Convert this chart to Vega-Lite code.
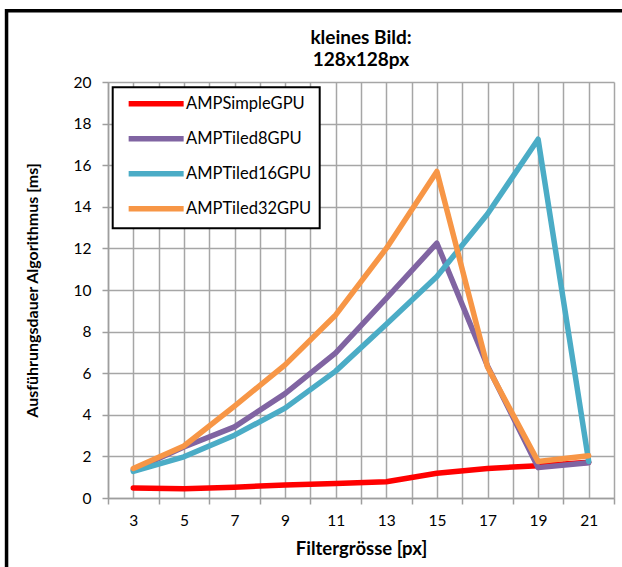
{
  "$schema": "https://vega.github.io/schema/vega-lite/v6.json",
  "width": 506,
  "height": 416,
  "autosize": "none",
  "padding": {"left": 108, "top": 82, "right": 8, "bottom": 69},
  "background": "white",
  "title": {
    "text": ["kleines Bild:", "128x128px"],
    "frame": "group",
    "font": "Lato",
    "fontSize": 19,
    "fontWeight": "bold",
    "color": "black",
    "anchor": "middle",
    "lineHeight": 22,
    "offset": -61
  },
  "config": {
    "view": {"stroke": null},
    "font": "Lato",
    "legend": {"strokeWidth": 2},
    "axis": {
      "domainColor": "#9e9e9e",
      "domainWidth": 1.5,
      "gridColor": "#a6a6a6",
      "gridWidth": 1.5,
      "gridOpacity": 1,
      "tickColor": "#9e9e9e",
      "tickWidth": 1.5,
      "tickSize": 6,
      "labelFont": "Lato",
      "labelFontSize": 15.5,
      "labelColor": "black",
      "titleFont": "Lato",
      "titleFontWeight": "bold",
      "titleColor": "black"
    }
  },
  "resolve": {"axis": {"x": "independent", "y": "independent"}},
  "layer": [
    {
      "data": {
        "values": [
          {"filter": 3, "serie": "AMPSimpleGPU", "ms": 0.48},
          {"filter": 5, "serie": "AMPSimpleGPU", "ms": 0.45},
          {"filter": 7, "serie": "AMPSimpleGPU", "ms": 0.52},
          {"filter": 9, "serie": "AMPSimpleGPU", "ms": 0.63},
          {"filter": 11, "serie": "AMPSimpleGPU", "ms": 0.7},
          {"filter": 13, "serie": "AMPSimpleGPU", "ms": 0.78},
          {"filter": 15, "serie": "AMPSimpleGPU", "ms": 1.19},
          {"filter": 17, "serie": "AMPSimpleGPU", "ms": 1.42},
          {"filter": 19, "serie": "AMPSimpleGPU", "ms": 1.55},
          {"filter": 21, "serie": "AMPSimpleGPU", "ms": 1.72},
          {"filter": 3, "serie": "AMPTiled8GPU", "ms": 1.35},
          {"filter": 5, "serie": "AMPTiled8GPU", "ms": 2.45},
          {"filter": 7, "serie": "AMPTiled8GPU", "ms": 3.42},
          {"filter": 9, "serie": "AMPTiled8GPU", "ms": 5.02},
          {"filter": 11, "serie": "AMPTiled8GPU", "ms": 6.98},
          {"filter": 13, "serie": "AMPTiled8GPU", "ms": 9.6},
          {"filter": 15, "serie": "AMPTiled8GPU", "ms": 12.25},
          {"filter": 17, "serie": "AMPTiled8GPU", "ms": 6.35},
          {"filter": 19, "serie": "AMPTiled8GPU", "ms": 1.46},
          {"filter": 21, "serie": "AMPTiled8GPU", "ms": 1.7},
          {"filter": 3, "serie": "AMPTiled16GPU", "ms": 1.28},
          {"filter": 5, "serie": "AMPTiled16GPU", "ms": 1.98},
          {"filter": 7, "serie": "AMPTiled16GPU", "ms": 3.02},
          {"filter": 9, "serie": "AMPTiled16GPU", "ms": 4.32},
          {"filter": 11, "serie": "AMPTiled16GPU", "ms": 6.1},
          {"filter": 13, "serie": "AMPTiled16GPU", "ms": 8.35},
          {"filter": 15, "serie": "AMPTiled16GPU", "ms": 10.65},
          {"filter": 17, "serie": "AMPTiled16GPU", "ms": 13.65},
          {"filter": 19, "serie": "AMPTiled16GPU", "ms": 17.25},
          {"filter": 21, "serie": "AMPTiled16GPU", "ms": 1.76},
          {"filter": 3, "serie": "AMPTiled32GPU", "ms": 1.42},
          {"filter": 5, "serie": "AMPTiled32GPU", "ms": 2.5},
          {"filter": 7, "serie": "AMPTiled32GPU", "ms": 4.42},
          {"filter": 9, "serie": "AMPTiled32GPU", "ms": 6.4},
          {"filter": 11, "serie": "AMPTiled32GPU", "ms": 8.8},
          {"filter": 13, "serie": "AMPTiled32GPU", "ms": 12.0},
          {"filter": 15, "serie": "AMPTiled32GPU", "ms": 15.7},
          {"filter": 17, "serie": "AMPTiled32GPU", "ms": 6.3},
          {"filter": 19, "serie": "AMPTiled32GPU", "ms": 1.75},
          {"filter": 21, "serie": "AMPTiled32GPU", "ms": 2.03}
        ]
      },
      "mark": {"type": "line", "strokeWidth": 5.5, "strokeCap": "round", "strokeJoin": "round"},
      "encoding": {
        "x": {
          "field": "filter",
          "type": "quantitative",
          "scale": {"domain": [2, 22], "nice": false, "zero": false},
          "axis": {
            "title": "Filtergrösse [px]",
            "titleFontSize": 18.5,
            "values": [2, 3, 4, 5, 6, 7, 8, 9, 10, 11, 12, 13, 14, 15, 16, 17, 18, 19, 20, 21, 22],
            "labelExpr": "datum.value % 2 == 1 ? datum.label : ''",
            "labelOverlap": false,
            "labelFlush": false,
            "labelBound": false,
            "labelPadding": 9,
            "tickOpacity": {"condition": {"test": "datum.value % 2 == 0", "value": 1}, "value": 0},
            "titlePadding": 11
          }
        },
        "y": {
          "field": "ms",
          "type": "quantitative",
          "scale": {"domain": [0, 20], "nice": false},
          "axis": {
            "title": "Ausführungsdauer Algorithmus [ms]",
            "titleFontSize": 16,
            "values": [0, 2, 4, 6, 8, 10, 12, 14, 16, 18, 20],
            "labelPadding": 11,
            "titleX": -76,
            "titleBaseline": "middle"
          }
        },
        "color": {
          "field": "serie",
          "type": "nominal",
          "sort": ["AMPSimpleGPU", "AMPTiled8GPU", "AMPTiled16GPU", "AMPTiled32GPU"],
          "scale": {
            "domain": ["AMPSimpleGPU", "AMPTiled8GPU", "AMPTiled16GPU", "AMPTiled32GPU"],
            "range": ["#FF0000", "#8064A2", "#4BACC6", "#F79646"]
          },
          "legend": {
            "title": null,
            "orient": "none",
            "legendX": 4.7,
            "legendY": 5.3,
            "strokeColor": "black",
            "fillColor": "white",
            "padding": 8,
            "symbolType": "M-0.1,0H9.9",
            "symbolSize": 121,
            "symbolStrokeWidth": 5.5,
            "labelFont": "Lato",
            "labelFontSize": 16.5,
            "labelColor": "black",
            "labelOffset": 48.3,
            "labelLimit": 300,
            "rowPadding": 12
          }
        }
      }
    },
    {
      "description": "outer chart frame",
      "data": {"values": [{}]},
      "mark": {"type": "rect", "fill": null, "stroke": "black", "strokeWidth": 3.5, "clip": false},
      "encoding": {
        "x": {"datum": -2.01, "type": "quantitative", "axis": null},
        "x2": {"datum": 26},
        "y": {"datum": 23.42, "type": "quantitative", "axis": null},
        "y2": {"datum": -6}
      }
    }
  ]
}
